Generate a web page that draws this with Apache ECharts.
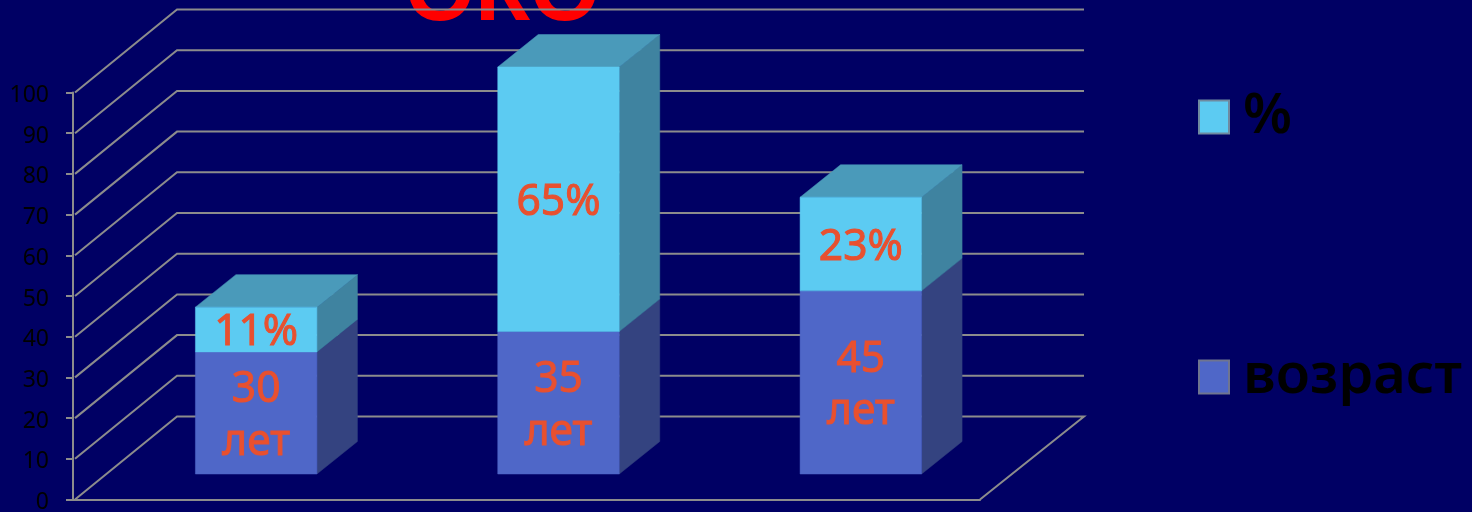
<!DOCTYPE html>
<html>
<head>
<meta charset="utf-8">
<style>html,body{margin:0;padding:0;background:#000064}#chart{width:1472px;height:512px}</style>
<script src="https://cdn.jsdelivr.net/npm/echarts@6/dist/echarts.min.js"></script>
</head>
<body>
<div id="chart"></div>
<script>
// Age groups and their shares, stacked one on the other
const groups = ['30 лет', '35 лет', '45 лет'];
const ages = [30, 35, 45];
const shares = [11, 65, 23];
const gridTicks = [0, 10, 20, 30, 40, 50, 60, 70, 80, 90, 100];

// Pseudo-3D box geometry, in pixels
const WALL_DX = 104, WALL_DY = -83;      // depth of the chart floor
const BAR_SHIFT_X = 32, BAR_SHIFT_Y = -25.5; // bars stand inside the floor
const BOX_DX = 40.5, BOX_DY = -32.5;     // depth of each box
const BAR_WIDTH = 121.5;

const GRID_COLOR = '#8c8c8c';
const LABEL_COLOR = '#e8502f';
const LABEL_FONT = '"Noto Sans", sans-serif';

function poly(points, fill) {
  return { type: 'polygon', shape: { points }, style: { fill, stroke: fill, lineWidth: 0.5 } };
}

function renderWalls(params, api) {
  const rect = params.coordSys;
  const y = api.coord([0, api.value(0)])[1];
  const x0 = rect.x, x1 = rect.x + rect.width;
  const pts = [[x0 + 2, y], [x0 + WALL_DX, y + WALL_DY], [x1 + WALL_DX, y + WALL_DY]];
  if (api.value(0) === 0) pts.push([x1, y]);
  return {
    type: 'polyline',
    shape: { points: pts },
    style: { stroke: GRID_COLOR, lineWidth: 2, fill: 'none' }
  };
}

// Draws one stacked box segment: side face, optional top face, front face and its label
function boxRenderer(colors, showTop, labelOf) {
  return function (params, api) {
    const i = api.value(0);
    const lo = api.value(1), hi = api.value(2);
    const c0 = api.coord([i, lo]), c1 = api.coord([i, hi]);
    const cx = c0[0] + BAR_SHIFT_X;
    const xl = cx - BAR_WIDTH / 2, xr = cx + BAR_WIDTH / 2;
    const yb = c0[1] + BAR_SHIFT_Y, yt = c1[1] + BAR_SHIFT_Y;
    const children = [
      poly([[xr, yb], [xr + BOX_DX, yb + BOX_DY], [xr + BOX_DX, yt + BOX_DY], [xr, yt]], colors.side)
    ];
    if (showTop) {
      children.push(poly([[xl, yt], [xl + BOX_DX, yt + BOX_DY], [xr + BOX_DX, yt + BOX_DY], [xr, yt]], colors.top));
    }
    children.push(poly([[xl, yb], [xr, yb], [xr, yt], [xl, yt]], colors.front));
    children.push({
      type: 'text',
      x: cx,
      y: (yb + yt) / 2 + 3,
      scaleY: 1.05,
      style: {
        x: 0, y: 0,
        text: labelOf(hi - lo),
        fill: LABEL_COLOR,
        stroke: LABEL_COLOR,
        lineWidth: 1,
        font: '42.5px ' + LABEL_FONT,
        lineHeight: 50,
        align: 'center',
        verticalAlign: 'middle'
      }
    });
    return { type: 'group', children };
  };
}

const ageData = groups.map((g, i) => [i, 0, ages[i]]);
const shareData = groups.map((g, i) => [i, ages[i], ages[i] + shares[i]]);

const chart = echarts.init(document.getElementById('chart'));
chart.setOption({
  animation: false,
  backgroundColor: '#000064',
  title: {
    text: 'ОКО',
    left: 400,
    top: -55,
    z: 1,
    textStyle: { color: '#ff0000', fontSize: 90, fontWeight: 'bold', fontFamily: '"Liberation Sans", sans-serif' }
  },
  legend: {
    orient: 'vertical',
    left: 1193,
    top: 84,
    itemWidth: 30,
    itemHeight: 33,
    itemGap: 204,
    icon: 'rect',
    data: ['%', 'возраст'],
    textStyle: { color: '#000000', fontSize: 56, fontWeight: 600, fontFamily: '"Noto Sans", sans-serif', padding: [0, 0, 0, 9] }
  },
  grid: { left: 73, top: 92.5, width: 907, height: 407, outerBoundsMode: 'none' },
  xAxis: {
    type: 'category',
    data: groups,
    axisLine: { lineStyle: { color: GRID_COLOR, width: 2 } },
    axisTick: { show: false },
    axisLabel: { show: false }
  },
  yAxis: {
    type: 'value',
    min: 0,
    max: 100,
    interval: 10,
    splitLine: { show: false },
    axisLine: { show: true, lineStyle: { color: GRID_COLOR, width: 2 } },
    axisTick: { show: true, length: 7, lineStyle: { color: GRID_COLOR, width: 2 } },
    axisLabel: { color: '#000000', fontSize: 23, margin: 24, verticalAlign: 'top', lineHeight: 6, fontFamily: '"Noto Sans", sans-serif' }
  },
  series: [
    {
      type: 'custom', name: 'walls', z: 2, silent: true, clip: false,
      renderItem: renderWalls,
      data: gridTicks.map(t => [t]),
      encode: { y: 0 }
    },
    {
      type: 'custom', name: 'возраст', z: 3, clip: false,
      itemStyle: { color: '#4f67c8', borderColor: '#6f7590', borderWidth: 1 },
      renderItem: boxRenderer({ front: '#4f67c8', side: '#344380', top: '#344380' }, false, v => v + '\nлет'),
      data: ageData,
      encode: { x: 0, y: [1, 2] }
    },
    {
      type: 'custom', name: '%', z: 4, clip: false,
      itemStyle: { color: '#5ccbf2', borderColor: '#6f8aa0', borderWidth: 1 },
      renderItem: boxRenderer({ front: '#5ccbf2', side: '#3f83a0', top: '#4a9aba' }, true, v => v + '%'),
      data: shareData,
      encode: { x: 0, y: [1, 2] }
    }
  ]
});
</script>
</body>
</html>
